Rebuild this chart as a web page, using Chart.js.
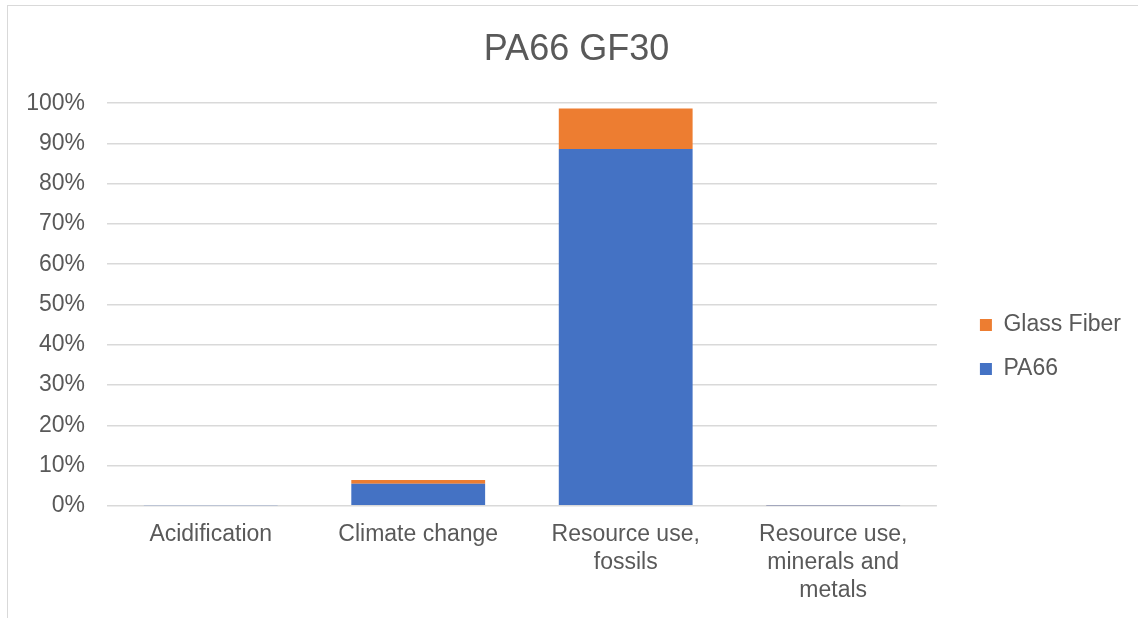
<!DOCTYPE html>
<html>
<head>
<meta charset="utf-8">
<script src="https://cdn.jsdelivr.net/npm/chart.js@4/dist/chart.umd.min.js"></script>
<style>
  html, body { margin: 0; padding: 0; background: #ffffff; overflow: hidden; }
  #wrap { position: relative; width: 1138px; height: 618px; }
  #frame { position: absolute; left: 7px; top: 5px; width: 1200px; height: 700px;
           border: 1px solid #d9d9d9; box-sizing: border-box; pointer-events: none; }
  canvas { position: absolute; left: 0; top: 0; }
</style>
</head>
<body>
<div id="wrap">
  <canvas id="chart" width="1138" height="618"></canvas>
  <div id="frame"></div>
</div>
<script>
// Impact categories (x axis)
const categories = [
  'Acidification',
  'Climate change',
  ['Resource use,', 'fossils'],
  ['Resource use,', 'minerals and', 'metals']
];

// Share of each impact (%) per material component
const pa66Values = [0.15, 5.5, 88.6, 0.1];
const glassFiberValues = [0.02, 0.9, 10.1, 0.05];

// Y axis ticks (%)
const yTicks = [0, 10, 20, 30, 40, 50, 60, 70, 80, 90, 100];

const textColor = '#595959';
const gridColor = '#d9d9d9';
const fontFamily = "'Liberation Sans', Arial, sans-serif";

// Nudges the legend and title blocks after layout
const blockOffset = {
  id: 'blockOffset',
  afterLayout(chart, args, opts) {
    const lg = chart.legend;
    if (lg) {
      lg.left += opts.legendDx; lg.right += opts.legendDx;
      lg.top += opts.legendDy; lg.bottom += opts.legendDy;
    }
    const tb = chart.titleBlock;
    if (tb) {
      tb.left += opts.titleDx; tb.right += opts.titleDx;
    }
  }
};

new Chart(document.getElementById('chart'), {
  type: 'bar',
  data: {
    labels: categories,
    datasets: [
      { label: 'PA66', data: pa66Values, backgroundColor: '#4472C4', borderWidth: 0 },
      { label: 'Glass Fiber', data: glassFiberValues, backgroundColor: '#ED7D31', borderWidth: 0 }
    ]
  },
  plugins: [blockOffset],
  options: {
    responsive: false,
    animation: false,
    devicePixelRatio: 1,
    layout: { padding: { left: 0, right: 29, top: 0, bottom: -2 } },
    datasets: { bar: { categoryPercentage: 1, barPercentage: 0.645 } },
    plugins: {
      blockOffset: { legendDx: 22, legendDy: 37, titleDx: 22 },
      title: {
        display: true,
        text: 'PA66 GF30',
        color: textColor,
        font: { family: fontFamily, size: 36, weight: 'normal' },
        padding: { top: 28, bottom: 32 }
      },
      legend: {
        position: 'right',
        reverse: true,
        labels: {
          color: textColor,
          font: { family: fontFamily, size: 23 },
          boxWidth: 12,
          boxHeight: 12,
          padding: 21
        }
      },
      tooltip: { enabled: false }
    },
    scales: {
      x: {
        stacked: true,
        grid: { display: false, drawTicks: false },
        border: { display: false },
        ticks: {
          color: textColor,
          font: { family: fontFamily, size: 23, lineHeight: 1.22 },
          padding: 15,
          maxRotation: 0,
          autoSkip: false
        }
      },
      y: {
        stacked: true,
        min: 0,
        max: 100,
        afterBuildTicks: (axis) => { axis.ticks = yTicks.map(v => ({ value: v })); },
        afterFit: (axis) => { axis.width = 107; },
        grid: { color: gridColor, lineWidth: 1.5, drawTicks: false },
        border: { display: false },
        ticks: {
          color: textColor,
          font: { family: fontFamily, size: 23 },
          padding: 22,
          callback: (v) => v + '%'
        }
      }
    }
  }
});
</script>
</body>
</html>
